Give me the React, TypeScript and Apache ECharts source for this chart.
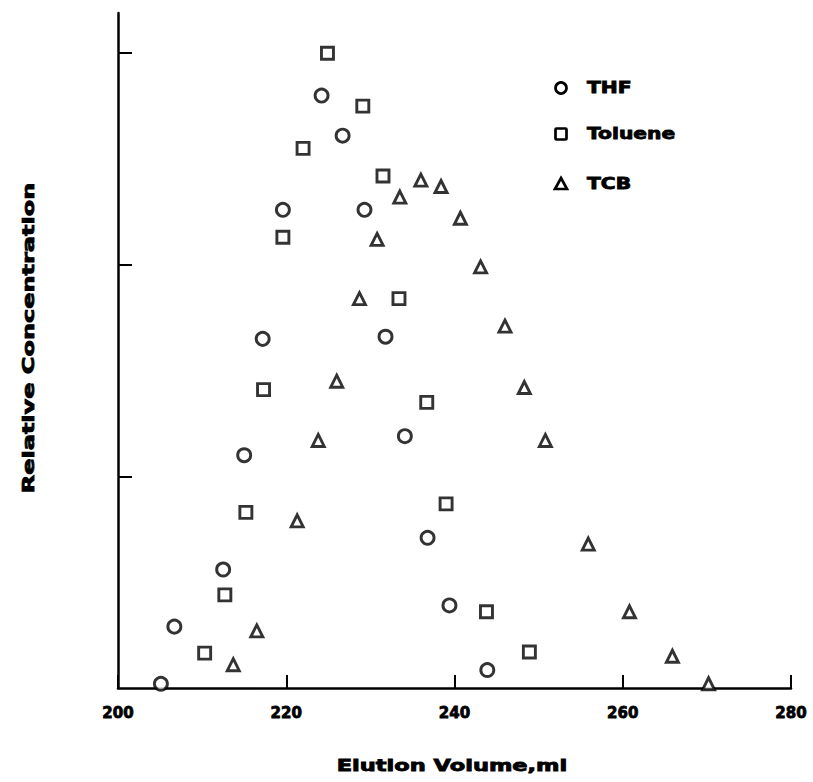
import React, { useEffect, useRef } from "react";
import * as echarts from "echarts";

const xTicks = [200, 220, 240, 260, 280];
const seriesNames = ["THF", "Toluene", "TCB"];
const xTitle = "Elution Volume,ml";
const yTitle = "Relative Concentration";

const thfX = [205.1, 206.7, 212.5, 215.0, 217.2, 219.6, 224.2, 226.7, 229.3, 231.8, 234.1, 236.8, 239.4, 243.9];
const thfY = [0.02, 0.29, 0.56, 1.1, 1.65, 2.26, 2.8, 2.61, 2.26, 1.66, 1.19, 0.71, 0.39, 0.085];

const tolX = [210.3, 212.7, 215.2, 217.3, 219.6, 222.0, 224.9, 229.1, 231.5, 233.4, 236.7, 239.0, 243.8, 248.9];
const tolY = [0.165, 0.44, 0.83, 1.41, 2.13, 2.55, 3.0, 2.75, 2.42, 1.84, 1.35, 0.87, 0.36, 0.17];

const tcbX = [213.7, 216.5, 221.3, 223.8, 226.0, 228.7, 230.8, 233.5, 236.0, 238.4, 240.7, 243.1, 246.0, 248.3, 250.8, 255.9, 260.8, 265.9, 270.2];
const tcbY = [0.11, 0.27, 0.79, 1.17, 1.45, 1.84, 2.12, 2.32, 2.4, 2.37, 2.22, 1.99, 1.71, 1.42, 1.17, 0.68, 0.36, 0.15, 0.02];

const pair = (xs: number[], ys: number[]) => xs.map((x, i) => [x, ys[i]]);

const FONT = "'DejaVu Sans', 'Liberation Sans', Arial, sans-serif";

export default function App() {
  const ref = useRef<HTMLDivElement>(null);
  useEffect(() => {
    document.body.style.margin = "0";
    if (!ref.current) return;
    const chart = echarts.init(ref.current, null, { renderer: "svg" });
    const markStyle = { color: "#ffffff", borderColor: "#000000", borderWidth: 2.9 };
    const heavyText = {
      fontFamily: FONT,
      fontWeight: "bold",
      fill: "#000",
      stroke: "#000",
      lineWidth: 0.8,
    };
    const legendIconStyle = { fill: "#fff", stroke: "#000", lineWidth: 2.7 };
    const legendX = 561;
    const legendY = [88, 134, 184];
    chart.setOption({
      animation: false,
      backgroundColor: "#ffffff",
      grid: { left: 118, right: 22, top: 13, bottom: 94 },
      graphic: [
        {
          type: "text",
          x: 452,
          y: 766,
          scaleX: 1.5,
          style: { ...heavyText, text: xTitle, fontSize: 15, textAlign: "center", textVerticalAlign: "middle" },
        },
        {
          type: "text",
          x: 29,
          y: 338,
          rotation: Math.PI / 2,
          scaleX: 1.6,
          style: { ...heavyText, text: yTitle, fontSize: 15, textAlign: "center", textVerticalAlign: "middle" },
        },
        { type: "circle", shape: { cx: legendX, cy: legendY[0], r: 5.5 }, style: legendIconStyle },
        { type: "rect", shape: { x: legendX - 5.5, y: legendY[1] - 5.5, width: 11, height: 11, r: 1 }, style: legendIconStyle },
        {
          type: "polygon",
          shape: { points: [[legendX, legendY[2] - 6], [legendX + 6, legendY[2] + 5], [legendX - 6, legendY[2] + 5]] },
          style: legendIconStyle,
        },
        ...seriesNames.map((n, i) => ({
          type: "text",
          x: 587,
          y: legendY[i],
          scaleX: 1.35,
          style: { ...heavyText, text: n, fontSize: 15, textAlign: "left", textVerticalAlign: "middle" },
        })),
      ],
      xAxis: {
        type: "value",
        min: 200,
        max: 280,
        interval: 20,
        axisLine: { lineStyle: { color: "#000", width: 2.5 } },
        axisTick: { inside: true, length: 13, lineStyle: { color: "#000", width: 2 } },
        axisLabel: {
          formatter: (v: number) => (xTicks.includes(v) ? String(v) : ""),
          fontFamily: FONT,
          fontWeight: "bold",
          fontSize: 15,
          color: "#000",
          textBorderColor: "#000",
          textBorderWidth: 0.8,
          margin: 17,
        },
        splitLine: { show: false },
      },
      yAxis: {
        type: "value",
        min: 0,
        max: 3.19,
        interval: 1,
        axisLine: { show: true, lineStyle: { color: "#000", width: 2.5 } },
        axisTick: { show: true, inside: true, length: 14, customValues: [1, 2, 3], lineStyle: { color: "#000", width: 2 } },
        axisLabel: { show: false },
        splitLine: { show: false },
      },
      series: [
        { name: seriesNames[0], type: "scatter", symbol: "circle", symbolSize: 13, itemStyle: markStyle, data: pair(thfX, thfY) },
        { name: seriesNames[1], type: "scatter", symbol: "rect", symbolSize: 12, itemStyle: markStyle, data: pair(tolX, tolY) },
        { name: seriesNames[2], type: "scatter", symbol: "triangle", symbolSize: 12, itemStyle: markStyle, data: pair(tcbX, tcbY) },
      ],
    });
    return () => chart.dispose();
  }, []);
  return <div ref={ref} style={{ width: 813, height: 782 }} />;
}
